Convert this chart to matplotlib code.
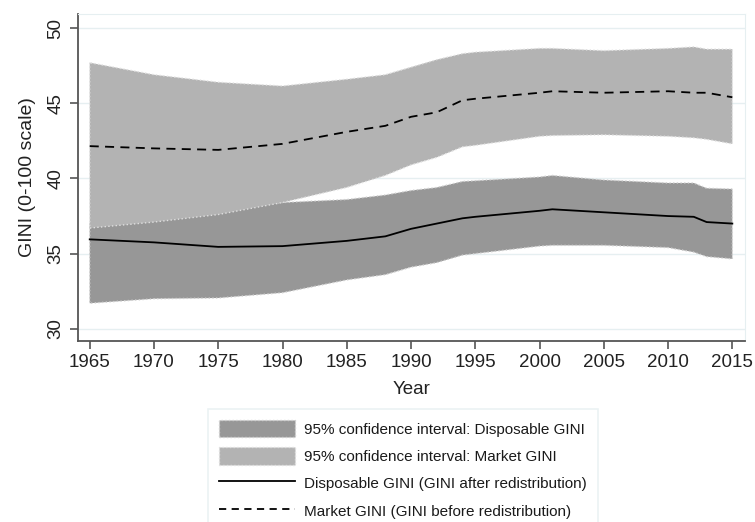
import matplotlib
matplotlib.use('Agg')
import matplotlib.pyplot as plt
from matplotlib.patches import Patch
from matplotlib.lines import Line2D

plt.rcParams['font.family'] = ['Liberation Sans', 'DejaVu Sans']

# values
years = [1965, 1970, 1975, 1980, 1985, 1988, 1990, 1992, 1994, 1995,
         2000, 2001, 2005, 2010, 2012, 2013, 2015]
market_mean = [42.15, 42.0, 41.9, 42.3, 43.1, 43.5, 44.1, 44.4, 45.2, 45.3,
               45.7, 45.8, 45.7, 45.8, 45.7, 45.7, 45.4]
market_hi = [47.7, 46.9, 46.4, 46.15, 46.6, 46.9, 47.4, 47.9, 48.3, 48.4,
             48.65, 48.65, 48.5, 48.65, 48.75, 48.6, 48.6]
market_lo = [36.7, 37.1, 37.6, 38.4, 39.4, 40.2, 40.9, 41.4, 42.1, 42.2,
             42.8, 42.85, 42.9, 42.8, 42.7, 42.6, 42.3]
disp_mean = [35.95, 35.75, 35.45, 35.5, 35.85, 36.15, 36.65, 37.0, 37.35, 37.45,
             37.85, 37.95, 37.75, 37.5, 37.45, 37.1, 37.0]
disp_hi = [37.0, 37.5, 38.0, 38.4, 38.6, 38.9, 39.2, 39.4, 39.8, 39.85,
           40.1, 40.2, 39.9, 39.7, 39.7, 39.35, 39.3]
disp_lo = [31.7, 32.0, 32.05, 32.4, 33.25, 33.6, 34.1, 34.4, 34.9, 35.0,
           35.5, 35.55, 35.55, 35.4, 35.1, 34.8, 34.65]

labels = ['95% confidence interval: Disposable GINI',
          '95% confidence interval: Market GINI',
          'Disposable GINI (GINI after redistribution)',
          'Market GINI (GINI before redistribution)']

dark = '#979797'
light = '#b3b3b3'
grid_col = '#e6eff1'

fig = plt.figure(figsize=(7.55, 5.22), dpi=100)
ax = fig.add_axes([0.103, 0.347, 0.884, 0.626])

ax.fill_between(years, disp_lo, disp_hi, facecolor=dark, edgecolor='#d0d0d0',
                linestyle=':', linewidth=1.0, zorder=2)
ax.fill_between(years, market_lo, market_hi, facecolor=light, edgecolor='#e0e0e0',
                linestyle=':', linewidth=1.0, zorder=3)
ax.plot(years, disp_mean, color='black', linewidth=1.3, zorder=4)
ax.plot(years, market_mean, color='black', linewidth=1.3, linestyle=(0, (5, 3.5)), zorder=4)

ax.set_xlim(1964.07, 2016.0)
ax.set_ylim(29.2, 50.93)
ax.set_xticks(range(1965, 2016, 5))
ax.set_yticks([30, 35, 40, 45, 50])
for y in [30, 35, 40, 45, 50]:
    ax.axhline(y, color=grid_col, linewidth=1, zorder=1)

ax.tick_params(axis='both', direction='out', length=6, width=1.2, color='#555555',
               labelsize=13.5, labelcolor='#222222')
ax.tick_params(axis='y', labelrotation=90)
for t in ax.get_yticklabels():
    t.set_va('center')

for side in ['top', 'right']:
    ax.spines[side].set_color(grid_col)
for side in ['left', 'bottom']:
    ax.spines[side].set_color('#555555')
    ax.spines[side].set_linewidth(1.3)

ax.set_xlabel('Year', fontsize=13.5, color='#222222', labelpad=7)
ax.set_ylabel('GINI (0-100 scale)', fontsize=14, color='#222222', labelpad=8)

handles = [Patch(facecolor=dark, edgecolor='#d0d0d0', linestyle=':'),
           Patch(facecolor=light, edgecolor='#e0e0e0', linestyle=':'),
           Line2D([0], [0], color='black', linewidth=1.3),
           Line2D([0], [0], color='black', linewidth=1.3, linestyle=(0, (4, 3)))]
leg = fig.legend(handles, labels, loc='upper left', bbox_to_anchor=(0.2755, 0.2165),
                 fontsize=11, frameon=True, fancybox=False, handlelength=5.0,
                 handleheight=1.37, handletextpad=0.55, labelspacing=0.65,
                 borderpad=0.72, borderaxespad=0)
leg.get_frame().set_edgecolor(grid_col)
leg.get_frame().set_linewidth(1.2)
for t in leg.get_texts():
    t.set_color('#1a1a1a')

fig.savefig('out.png', dpi=100)
